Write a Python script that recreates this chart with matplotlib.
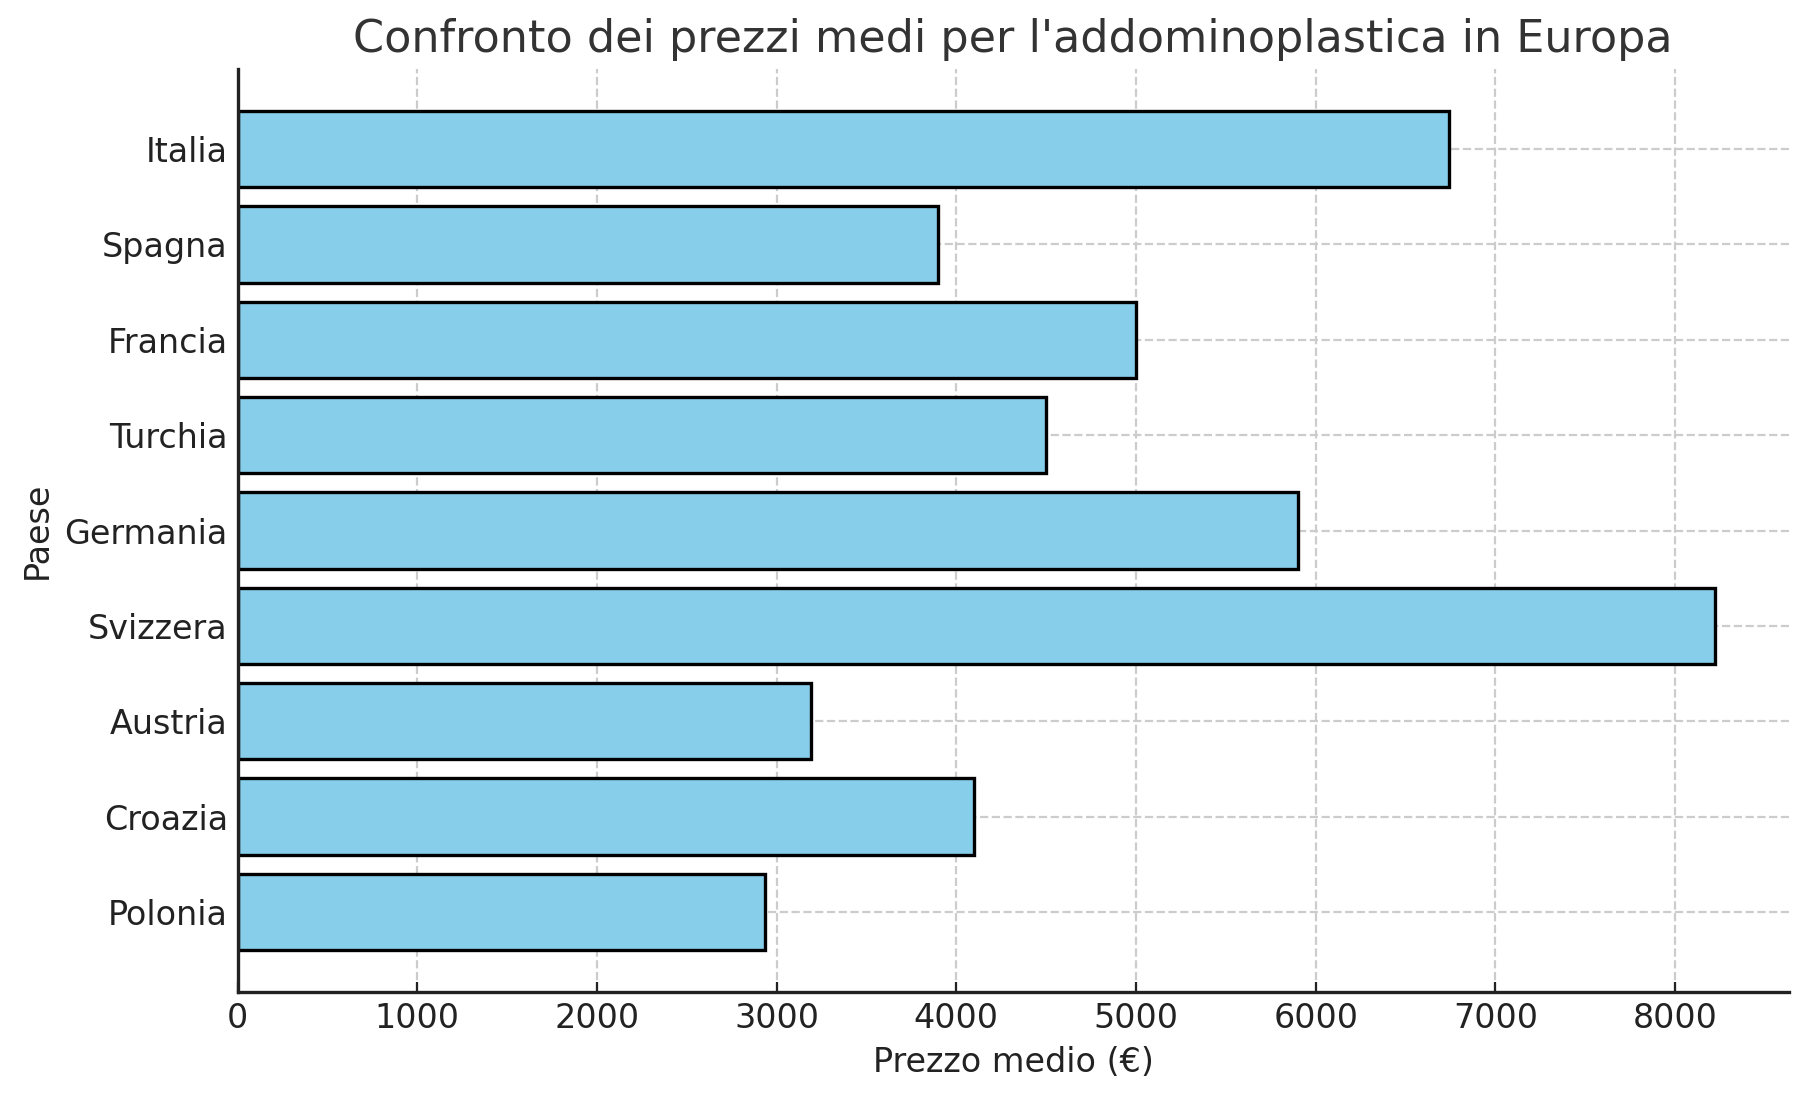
import numpy as np
import matplotlib.pyplot as plt

paesi = ["Polonia", "Croazia", "Austria", "Svizzera", "Germania",
         "Turchia", "Francia", "Spagna", "Italia"]
prezzi = [2935, 4100, 3190, 8220, 5900, 4500, 5000, 3900, 6740]

plt.rcParams["font.family"] = "DejaVu Sans"

fig, ax = plt.subplots(figsize=(1807 / 200, 1101 / 200), dpi=200)
fig.subplots_adjust(left=237.5 / 1807, right=1788.5 / 1807,
                    top=1 - 69 / 1101, bottom=1 - 992 / 1101)

ax.barh(paesi, prezzi, color="skyblue", edgecolor="black", linewidth=1.2, zorder=2)
ax.grid(True, linestyle="--", color="#cccccc", linewidth=0.8, zorder=0)
ax.set_axisbelow(True)

ax.set_title("Confronto dei prezzi medi per l'addominoplastica in Europa",
             fontsize=16, color="#333333")
ax.set_xlabel("Prezzo medio (€)", fontsize=12, color="#222222")
ax.set_ylabel("Paese", fontsize=12, color="#222222")
# i tick sono rivolti verso l'interno
ax.tick_params(labelsize=12, colors="#222222", direction="in")
for s in ["top", "right"]:
    ax.spines[s].set_visible(False)
for s in ["left", "bottom"]:
    ax.spines[s].set_linewidth(1.2)
    ax.spines[s].set_color("#222222")

fig.savefig("out.png", dpi=200)
